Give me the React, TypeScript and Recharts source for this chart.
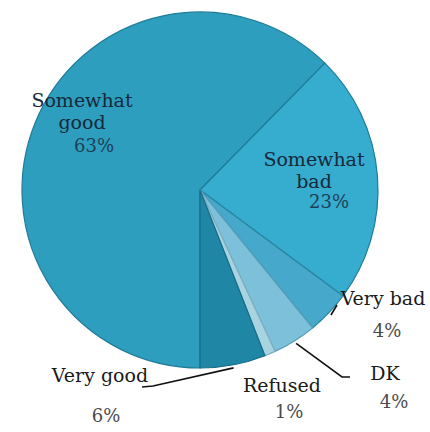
import { PieChart, Pie, Cell } from 'recharts';

const categories = ['Somewhat good', 'Somewhat bad', 'Very bad', 'DK', 'Refused', 'Very good'];
const shares = [63, 23, 4, 4, 1, 6];

const data = categories.map((name, i) => ({ name, value: shares[i] }));

const FILLS = ['#2E9EBF', '#36ACCF', '#46A9CB', '#7CC1D9', '#A8D4E2', '#1F86A5'];
const EDGES = ['#1E7C98', '#1E7C98', '#2A86A4', '#5B9FB8', '#7FAFC0', '#176D87'];

const RAD = Math.PI / 180;

// text placement for each slice label (centre x, baselines) + optional leader line
const LABELS = [
  { lines: ['Somewhat', 'good'], x: 82, y: 107, px: 94, py: 152, inside: true },
  { lines: ['Somewhat', 'bad'], x: 314, y: 166, px: 329, py: 208, inside: true },
  { lines: ['Very bad'], x: 383, y: 305, px: 387, py: 337, leader: [[337, 305]] },
  { lines: ['DK'], x: 385, y: 380, px: 394, py: 408, leader: [[342, 377], [350, 377]] },
  { lines: ['Refused'], x: 282, y: 392, px: 289, py: 418 },
  { lines: ['Very good'], x: 100, y: 382, px: 106, py: 422, leader: [[153, 386], [142, 387]] },
];

function SliceLabel(props: any) {
  const { cx, cy, midAngle, outerRadius, index, value } = props;
  const l = LABELS[index];
  if (!l) return null;
  const nameColor = l.inside ? '#16293a' : '#1a1a1a';
  const pctColor = l.inside ? '#1d3f55' : '#4a4a4a';
  let leader = null;
  if (l.leader) {
    const r = outerRadius + 3;
    const sx = cx + r * Math.cos(-midAngle * RAD);
    const sy = cy + r * Math.sin(-midAngle * RAD);
    const pts = [[sx, sy], ...l.leader].map((p) => p.join(',')).join(' ');
    leader = <polyline points={pts} fill="none" stroke="#111" strokeWidth={1.6} />;
  }
  return (
    <g>
      {leader}
      {l.lines.map((t, i) => (
        <text
          key={i}
          x={l.x}
          y={l.y + i * 22}
          textAnchor="middle"
          fill={nameColor}
          fontFamily="DejaVu Serif"
          fontSize={19}
        >
          {t}
        </text>
      ))}
      <text x={l.px} y={l.py} textAnchor="middle" fill={pctColor} fontFamily="DejaVu Serif" fontSize={18}>
        {value}%
      </text>
    </g>
  );
}

export default function App() {
  return (
    <div style={{ width: 430, height: 432, background: '#fff' }}>
      <style>{'body{margin:0}'}</style>
      <PieChart width={430} height={432}>
        <Pie
          data={data}
          dataKey="value"
          nameKey="name"
          cx={195}
          cy={185}
          outerRadius={178}
          startAngle={270}
          endAngle={-90}
          label={SliceLabel}
          labelLine={false}
          isAnimationActive={false}
        >
          {data.map((d, i) => (
            <Cell key={d.name} fill={FILLS[i]} stroke={EDGES[i]} strokeWidth={1.2} />
          ))}
        </Pie>
      </PieChart>
    </div>
  );
}
